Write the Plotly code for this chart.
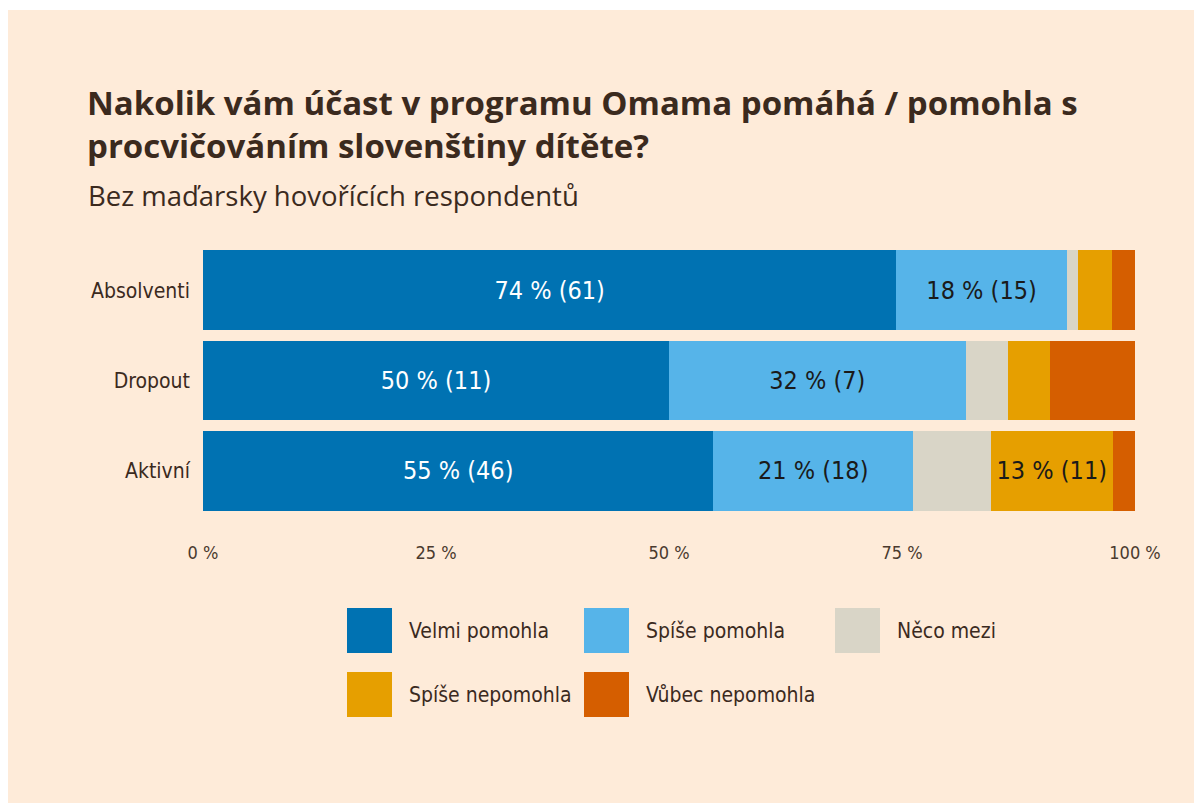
import plotly.graph_objects as go

# ---------------- data ----------------
groups = ["Absolventi", "Dropout", "Aktivní"]
answers = ["Velmi pomohla", "Spíše pomohla", "Něco mezi", "Spíše nepomohla", "Vůbec nepomohla"]
counts_absolventi = [61, 15, 1, 3, 2]
counts_dropout = [11, 7, 1, 1, 2]
counts_aktivni = [46, 18, 7, 11, 2]
colors = ["#0072B2", "#56B4E9", "#D9D5C7", "#E69F00", "#D55E00"]
label_colors = ["#FFFFFF", "#1A1A1A", "#1A1A1A", "#1A1A1A", "#1A1A1A"]
tick_vals = [0, 25, 50, 75, 100]
tick_text = ["0 %", "25 %", "50 %", "75 %", "100 %"]
title_lines = ["Nakolik vám účast v programu Omama pomáhá / pomohla s",
               "procvičováním slovenštiny dítěte?"]
subtitle = "Bez maďarsky hovořících respondentů"

counts = {"Absolventi": counts_absolventi, "Dropout": counts_dropout, "Aktivní": counts_aktivni}

# ---------------- layout geometry (page pixels; page has 8px body margin) ----------------
W, H = 1202, 803
OFF = 8
L, R, T, B = 203 - OFF, W - (1135 - OFF), 245 - OFF, H - (516 - OFF)
PW, PH = W - L - R, H - T - B

def px(x):
    return (x - OFF - L) / PW

def py(y):
    return 1 - (y - OFF - T) / PH

BG = "#FEEBD9"
TXT = "#3B2A1E"
COND = "Liberation Sans Narrow, DejaVu Sans Condensed, Roboto Condensed, Roboto"

fig = go.Figure()
for i, ans in enumerate(answers):
    xs, texts = [], []
    for g in groups:
        c = counts[g]
        n = sum(c)
        pct = c[i] / n * 100
        xs.append(pct)
        texts.append(f"{round(pct)} % ({c[i]})" if pct >= 10 else "")
    fig.add_trace(go.Bar(
        y=groups, x=xs, name=ans, orientation="h",
        marker=dict(color=colors[i], line=dict(width=0)),
        text=texts, textposition="inside", insidetextanchor="middle",
        textangle=0, constraintext="none",
        textfont=dict(color=label_colors[i], size=25, family=COND),
        showlegend=False, hoverinfo="skip",
    ))

shapes = [
    dict(type="rect", xref="paper", yref="paper", x0=px(-20), x1=px(W + 20), y0=py(0), y1=py(10),
         fillcolor="white", line=dict(width=0), layer="below"),
]
annotations = [
    dict(text="<br>".join(title_lines), xref="paper", yref="paper", x=px(85), y=py(124),
         xanchor="left", yanchor="middle", align="left", showarrow=False,
         font=dict(family="Open Sans", size=33, color=TXT, weight="bold")),
    dict(text=subtitle, xref="paper", yref="paper", x=px(86), y=py(195),
         xanchor="left", yanchor="middle", align="left", showarrow=False,
         font=dict(family="Open Sans", size=27.5, color=TXT)),
]

# manual legend
leg_pos = [(347, 608), (584, 608), (835, 608), (347, 672), (584, 672)]
for i, ans in enumerate(answers):
    x0, y0 = leg_pos[i]
    shapes.append(dict(type="rect", xref="paper", yref="paper",
                       x0=px(x0), x1=px(x0 + 45), y0=py(y0 + 45), y1=py(y0),
                       fillcolor=colors[i], line=dict(width=0)))
    annotations.append(dict(text=ans, xref="paper", yref="paper", x=px(x0 + 60), y=py(y0 + 23),
                            xanchor="left", yanchor="middle", showarrow=False,
                            font=dict(family=COND, size=21, color=TXT)))

fig.update_layout(
    width=W, height=H, barmode="stack", bargap=0.115,
    margin=dict(l=L, r=R, t=T, b=B, autoexpand=False),
    paper_bgcolor=BG, plot_bgcolor=BG,
    shapes=shapes, annotations=annotations,
    xaxis=dict(range=[0, 100], tickvals=tick_vals, ticktext=tick_text,
               showgrid=False, zeroline=False, showline=False, ticks="",
               ticklabelstandoff=24,
               tickfont=dict(family=COND, size=18, color="#4A3A2E")),
    yaxis=dict(categoryorder="array", categoryarray=groups[::-1], showgrid=False,
               zeroline=False, showline=False, ticks="", ticklabelstandoff=12,
               tickfont=dict(family=COND, size=21, color=TXT)),
)

fig.write_html("out.html")
